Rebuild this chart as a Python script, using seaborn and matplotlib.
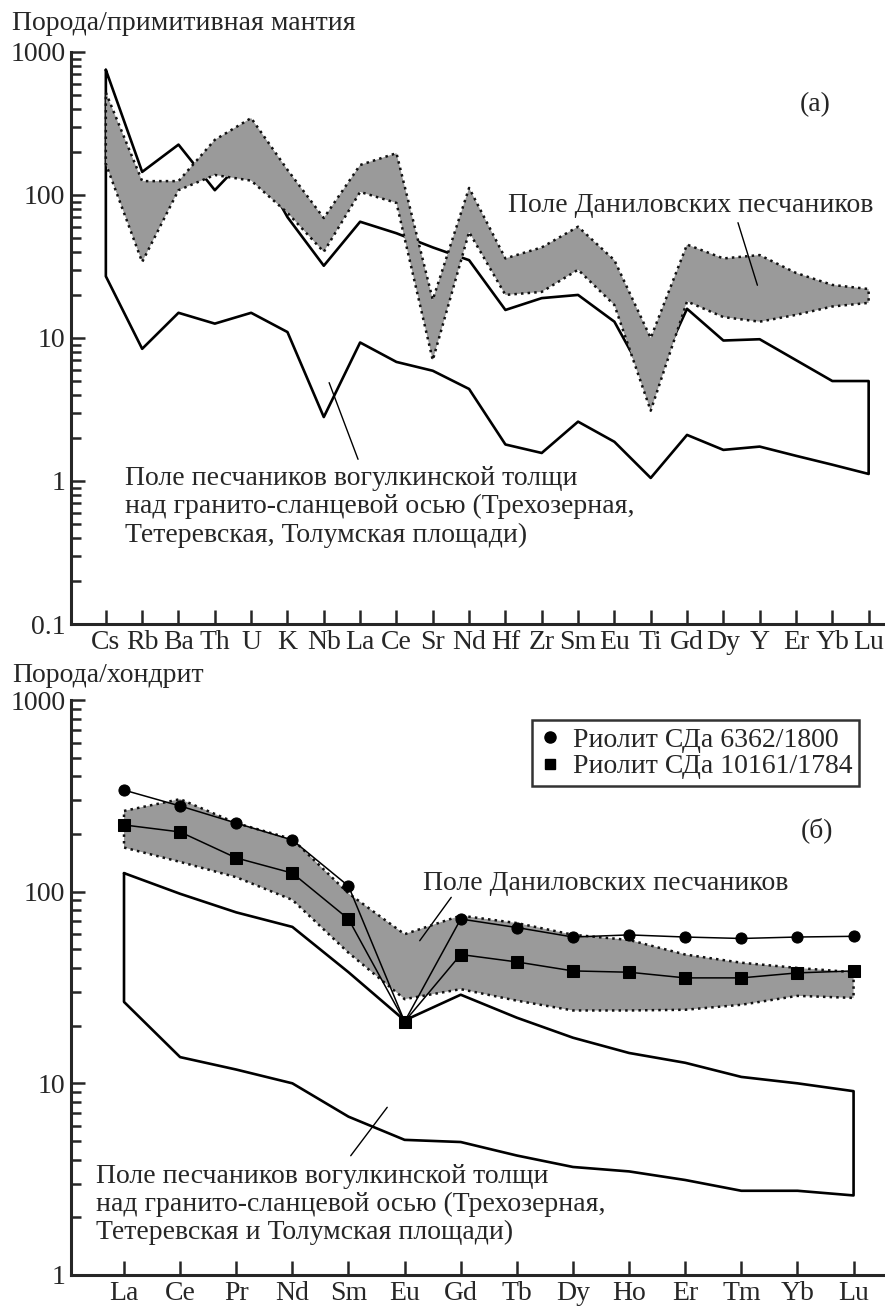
import matplotlib
matplotlib.use("Agg")
import numpy as np
import pandas as pd
import matplotlib.pyplot as plt
from matplotlib.lines import Line2D
from matplotlib.ticker import LogLocator, NullFormatter
import seaborn as sns

sns.set_style("ticks")
plt.rcParams['font.family'] = ['Liberation Serif', 'DejaVu Serif']

# (а) порода / примитивная мантия
elem_a = ['Cs', 'Rb', 'Ba', 'Th', 'U', 'K', 'Nb', 'La', 'Ce', 'Sr', 'Nd',
          'Hf', 'Zr', 'Sm', 'Eu', 'Ti', 'Gd', 'Dy', 'Y', 'Er', 'Yb', 'Lu']
vog_hi_a = [750, 145, 225, 108, 200, 70, 32, 65, 54, 43, 35,
            15.7, 19, 20, 13, 4.5, 16, 9.6, 9.8, 7.0, 5.0, 5.0]
vog_lo_a = [27, 8.4, 15, 12.6, 15, 11, 2.8, 9.3, 6.8, 5.9, 4.4,
            1.8, 1.57, 2.6, 1.88, 1.05, 2.1, 1.65, 1.74, 1.5, 1.3, 1.12]
dan_hi_a = [520, 125, 125, 243, 345, 150, 69, 162, 196, 18.5, 112,
            36, 43, 60, 35, 10, 45, 36, 38, 28.5, 23.5, 22]
dan_lo_a = [165, 34, 108, 138, 126, 75, 40, 105, 88, 7.0, 55,
            20, 21, 30, 17, 3.1, 18, 14, 13, 14.5, 16.6, 17.6]

# (б) порода / хондрит
elem_b = ['La', 'Ce', 'Pr', 'Nd', 'Sm', 'Eu', 'Gd', 'Tb', 'Dy', 'Ho',
          'Er', 'Tm', 'Yb', 'Lu']
vog_hi_b = [125, 97.5, 78, 65.5, 38, 21.3, 29, 22, 17.3, 14.4, 12.8, 10.8, 10, 9.1]
vog_lo_b = [26.6, 13.7, 11.8, 10, 6.7, 5.07, 4.94, 4.2, 3.66, 3.47, 3.13, 2.75, 2.75, 2.6]
dan_hi_b = [264, 304, 228, 188, 98, 60, 75, 68.6, 59.6, 56, 47, 42.6, 40, 38]
dan_lo_b = [170, 143, 119, 90.6, 48, 27.5, 31, 27, 24, 24, 24.2, 25.7, 28.6, 27.9]
rhy_6362 = [339, 280, 228, 186, 107, 21, 72, 65, 58, 59.5, 58, 57, 58, 58.5]
rhy_10161 = [223, 205, 150, 125, 72, 21, 47, 43, 38.6, 38, 35.5, 35.5, 37.7, 38.6]

legend_labels = ['Риолит СДа 6362/1800', 'Риолит СДа 10161/1784']

FS = 20
GRAY = '#9a9a9a'


def outline(hi, lo):
    n = len(hi)
    xs = list(range(n)) + list(range(n))[::-1] + [0]
    ys = list(hi) + list(lo)[::-1] + [hi[0]]
    return pd.DataFrame({'x': xs, 'y': ys})


def draw_fields(ax, vog_hi, vog_lo, dan_hi, dan_lo):
    vog = outline(vog_hi, vog_lo)
    sns.lineplot(data=vog, x='x', y='y', sort=False, estimator=None,
                 color='black', lw=1.9, ax=ax, zorder=2)
    dan = outline(dan_hi, dan_lo)
    ax.fill(dan['x'], dan['y'], facecolor=GRAY, edgecolor='none', zorder=3)
    sns.lineplot(data=dan, x='x', y='y', sort=False, estimator=None,
                 color='#111111', lw=1.8, linestyle=':', ax=ax, zorder=3.5)


def style_axes(ax, labels, ylim, ymaj, ymaj_lab):
    ax.set_yscale('log')
    ax.set_ylim(*ylim)
    ax.set_yticks(ymaj)
    ax.set_yticklabels(ymaj_lab)
    ax.yaxis.set_minor_locator(LogLocator(base=10, subs=np.arange(2, 10)))
    ax.yaxis.set_minor_formatter(NullFormatter())
    ax.set_xticks(range(len(labels)))
    ax.set_xticklabels(labels)
    ax.set_xlabel('')
    ax.set_ylabel('')
    ax.tick_params(axis='both', which='major', direction='in', length=10,
                   width=1.8, labelsize=FS, pad=4)
    ax.tick_params(axis='y', which='minor', direction='in', length=7, width=1.8)
    ax.tick_params(axis='x', which='minor', bottom=False)
    sns.despine(ax=ax)
    for s in ['left', 'bottom']:
        ax.spines[s].set_linewidth(2.2)


fig = plt.figure(figsize=(8.85, 13.09), dpi=100)

# ---------------- panel (а)
ax1 = fig.add_axes([0.0802, 0.5233, 0.9198, 0.437])
draw_fields(ax1, vog_hi_a, vog_lo_a, dan_hi_a, dan_lo_a)
style_axes(ax1, elem_a, (0.1, 1000), [0.1, 1, 10, 100, 1000],
           ['0.1', '1', '10', '100', '1000'])
ax1.set_xlim(-0.96, 21.45)
ax1.text(19.53, 426, '(a)', fontsize=FS, ha='center', va='center')
ax1.text(11.07, 85, 'Поле Даниловских песчаников', fontsize=FS,
         ha='left', va='center')
ax1.annotate('', xy=(17.96, 22.4), xytext=(17.38, 66.8),
             arrowprops=dict(arrowstyle='-', lw=1, color='black'))
ax1.text(0.52, 0.658, 'Поле песчаников вогулкинской толщи\n'
         'над гранито-сланцевой осью (Трехозерная,\n'
         'Тетеревская, Толумская площади)', fontsize=FS,
         ha='left', va='center', linespacing=1.15)
ax1.annotate('', xy=(6.97, 1.36), xytext=(6.12, 5.08),
             arrowprops=dict(arrowstyle='-', lw=1, color='black'))
fig.text(12 / 885, 1 - 23 / 1309, 'Порода/примитивная мантия',
         fontsize=FS, ha='left', va='center')

# ---------------- panel (б)
ax2 = fig.add_axes([0.0802, 0.026, 0.9198, 0.4392])
draw_fields(ax2, vog_hi_b, vog_lo_b, dan_hi_b, dan_lo_b)
xb = list(range(len(elem_b)))
sns.lineplot(x=xb, y=rhy_6362, color='black', lw=1.1, marker='o',
             markersize=8, markeredgecolor='black', ax=ax2, zorder=5)
sns.lineplot(x=xb, y=rhy_10161, color='black', lw=1.1, marker='s',
             markersize=8, markeredgecolor='black', ax=ax2, zorder=5)
style_axes(ax2, elem_b, (1, 1000), [1, 10, 100, 1000],
           ['1', '10', '100', '1000'])
ax2.set_xlim(-0.945, 13.56)
ax2.text(12.35, 210, '(б)', fontsize=FS, ha='center', va='center')
ax2.text(5.33, 111, 'Поле Даниловских песчаников', fontsize=FS,
         ha='left', va='center')
ax2.annotate('', xy=(5.24, 54), xytext=(5.86, 96),
             arrowprops=dict(arrowstyle='-', lw=1, color='black'))
ax2.text(-0.5, 2.32, 'Поле песчаников вогулкинской толщи\n'
         'над гранито-сланцевой осью (Трехозерная,\n'
         'Тетеревская и Толумская площади)', fontsize=FS,
         ha='left', va='center', linespacing=1.15)
ax2.annotate('', xy=(4.01, 4.08), xytext=(4.72, 7.7),
             arrowprops=dict(arrowstyle='-', lw=1, color='black'))
handles = [Line2D([], [], ls='none', marker='o', color='black', markersize=8),
           Line2D([], [], ls='none', marker='s', color='black', markersize=7)]
leg = ax2.legend(handles, legend_labels, loc='upper right',
                 bbox_to_anchor=(0.968, 0.965), fontsize=FS, frameon=True,
                 fancybox=False, handlelength=0.8, handletextpad=0.4,
                 borderpad=0.25, labelspacing=0.05, borderaxespad=0)
leg.get_frame().set_edgecolor('black')
leg.get_frame().set_linewidth(1.8)
fig.text(12 / 885, 1 - 675 / 1309, 'Порода/хондрит',
         fontsize=FS, ha='left', va='center')

fig.savefig('out.png', dpi=100)
